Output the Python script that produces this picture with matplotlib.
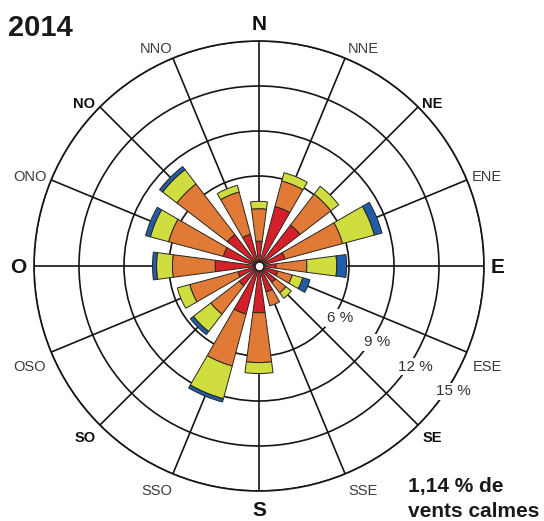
import numpy as np
import matplotlib
matplotlib.use("Agg")
import matplotlib.pyplot as plt

# Wind frequency (%) by direction, split by wind-speed class
directions = ["N", "NNE", "NE", "ENE", "E", "ESE", "SE", "SSE",
              "S", "SSO", "SO", "OSO", "O", "ONO", "NO", "NNO"]
speed_low  = [1.66, 4.11, 3.45, 1.79, 1.13, 1.29, 1.39, 1.79,
              3.12, 3.32, 1.66, 1.46, 2.92, 2.46, 2.65, 2.19]
speed_mid  = [2.16, 1.76, 2.59, 3.98, 2.06, 1.00, 0.87, 0.96,
              3.32, 3.58, 2.39, 3.32, 2.85, 3.78, 4.25, 2.92]
speed_high = [0.49, 0.57, 0.66, 2.19, 1.99, 0.73, 0.46, 0.00,
              0.73, 2.26, 1.46, 0.86, 1.06, 1.26, 1.20, 0.46]
speed_max  = [0.00, 0.00, 0.00, 0.53, 0.66, 0.50, 0.00, 0.00,
              0.00, 0.23, 0.26, 0.00, 0.27, 0.33, 0.26, 0.00]
ring_levels = [6, 9, 12, 15]
calm_pct = 1.14
year = "2014"

colors = ["#d42028", "#e07a36", "#cfdd3e", "#215ca8"]
FONT = "Liberation Sans"

W, H = 544, 521
fig = plt.figure(figsize=(W / 100, H / 100), dpi=100)
cx, cy, R = 259, 266, 225
ax = fig.add_axes([(cx - R) / W, (H - cy - R) / H, 2 * R / W, 2 * R / H],
                  projection="polar")
ax.set_theta_zero_location("N")
ax.set_theta_direction(-1)
ax.set_ylim(0, ring_levels[-1])

theta = np.deg2rad(np.arange(len(directions)) * 22.5)
width = np.deg2rad(15)

bottom = np.zeros(len(directions))
for vals, col in zip([speed_low, speed_mid, speed_high, speed_max], colors):
    v = np.asarray(vals, dtype=float)
    m = v > 0
    ax.bar(theta[m], v[m], width=width, bottom=bottom[m], color=col,
           edgecolor="#2a2620", linewidth=0.7, zorder=3)
    bottom += v

# calm hole in the middle
ax.scatter([0], [0], s=40, c="white", edgecolors="#222222", linewidths=1.0,
           zorder=6)

# grid: spokes and rings
ax.set_xticks(theta)
ax.set_xticklabels([])
ax.set_yticks(ring_levels)
ax.set_yticklabels([])
ax.grid(True, color="#151515", linewidth=1.2)
ax.set_axisbelow(True)
ax.spines["polar"].set_color("#151515")
ax.spines["polar"].set_linewidth(1.2)
ax.tick_params(length=0, pad=0)

# ring labels
for lvl in ring_levels:
    ax.text(np.deg2rad(122.8), lvl + 0.4, f"{lvl} %", ha="center", va="center",
            fontsize=11, color="#333333", family=FONT, zorder=7,
            bbox=dict(boxstyle="square,pad=0.1", fc="white", ec="none"))

# direction labels: (dx, dy) offsets in pixels from the spoke end, alignment
label_style = {
    "N":   ((0, 10.5), "center", 15, "bold", "#111111"),
    "NNE": ((2.6, 5), "left", 10.5, "normal", "#3a3a3a"),
    "NE":  ((4, -1), "left", 10.5, "bold", "#111111"),
    "ENE": ((5, -1), "left", 10.5, "normal", "#3a3a3a"),
    "E":   ((6.7, -7.3), "left", 15, "bold", "#111111"),
    "ESE": ((5.8, -18.6), "left", 10.5, "normal", "#3a3a3a"),
    "SE":  ((4.6, -16.6), "left", 10.5, "bold", "#111111"),
    "SSE": ((3, -21), "left", 10.5, "normal", "#3a3a3a"),
    "S":   ((0, -25.5), "center", 15, "bold", "#111111"),
    "SSO": ((-1, -21), "right", 10.5, "normal", "#3a3a3a"),
    "SO":  ((-4.6, -16.6), "right", 10.5, "bold", "#111111"),
    "OSO": ((-5.8, -18.6), "right", 10.5, "normal", "#3a3a3a"),
    "O":   ((-7.3, -7.3), "right", 15, "bold", "#111111"),
    "ONO": ((-5, -1), "right", 10.5, "normal", "#3a3a3a"),
    "NO":  ((-4.6, -1), "right", 10.5, "bold", "#111111"),
    "NNO": ((-0.6, 5), "right", 10.5, "normal", "#3a3a3a"),
}
for th, name in zip(theta, directions):
    (dx, dy), ha, fs, fw, col = label_style[name]
    ax.annotate(name, xy=(th, ring_levels[-1]), xytext=(dx, dy),
                textcoords="offset pixels", ha=ha, va="baseline",
                fontsize=fs, fontweight=fw, color=col, family=FONT,
                annotation_clip=False)

# year title
fig.text(8 / W, (H - 35.7) / H, year, ha="left", va="baseline",
         fontsize=21, fontweight="bold", color="#1a1a1a", family=FONT)

# calm winds note
calm_txt = f"{calm_pct:.2f}".replace(".", ",") + " % de"
fig.text(407.5 / W, (H - 491.7) / H, calm_txt, ha="left", va="baseline",
         fontsize=15, fontweight="bold", color="#1a1a1a", family=FONT)
fig.text(407.5 / W, (H - 516.7) / H, "vents calmes", ha="left", va="baseline",
         fontsize=15, fontweight="bold", color="#1a1a1a", family=FONT)

fig.savefig("out.png", dpi=100, facecolor="white")
